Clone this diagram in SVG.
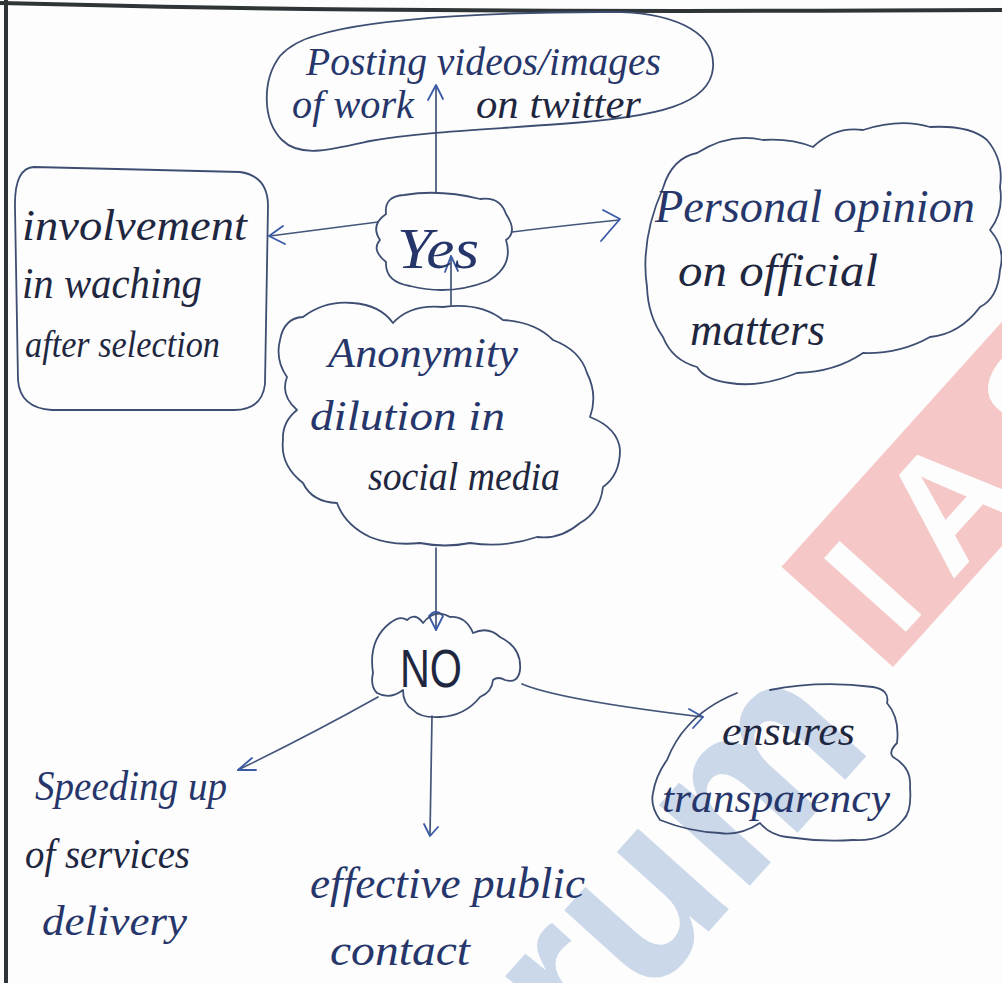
<svg xmlns="http://www.w3.org/2000/svg" width="1002" height="983" viewBox="0 0 1002 983">
  <defs>
    <style>
      .ink { font-family: "Liberation Serif", "DejaVu Serif", serif; font-style: italic; fill: #26366a; }
      .dark { fill: #1f2740; }
      .outline { fill: none; stroke: #3e4e72; stroke-width: 1.8; stroke-linecap: round; stroke-linejoin: round; }
      .wire { fill: none; stroke: #44557a; stroke-width: 1.7; stroke-linecap: round; stroke-linejoin: round; }
      .head { fill: none; stroke: #3a5aa8; stroke-width: 1.8; stroke-linecap: round; stroke-linejoin: round; }
      .mark { font-family: "Liberation Sans", "DejaVu Sans", sans-serif; font-weight: bold; }
    </style>
  </defs>

  <!-- paper -->
  <rect x="0" y="0" width="1002" height="983" fill="#fdfdfd"/>

  <!-- faint brand mark printed across the sheet -->
  <g id="watermark" transform="translate(893,667) rotate(-48)">
    <rect x="0" y="-150" width="700" height="150" fill="#f5c7c7"/>
    <text class="mark" x="24" y="-14" font-size="160" letter-spacing="34" fill="#fdfdfd">IAS</text>
    <text class="mark" x="-70" y="40" font-size="230" fill="#cbd8ea" text-anchor="end">forum</text>
  </g>

  <!-- page edges -->
  <path d="M0,3 C200,8 420,13 1002,10" fill="none" stroke="#2f3436" stroke-width="4"/>
  <path d="M6,0 L6,983" fill="none" stroke="#2f3436" stroke-width="4"/>

  <!-- connectors -->
  <g id="connectors">
    <!-- Yes -> posting -->
    <path class="wire" d="M436,192 L436,86"/>
    <path class="head" d="M428,100 L436,85 L443,99"/>
    <!-- Yes -> involvement -->
    <path class="wire" d="M378,222 Q330,228 270,236"/>
    <path class="head" d="M283,226 L269,236 L285,244"/>
    <!-- Yes -> personal opinion -->
    <path class="wire" d="M512,232 Q560,226 619,220"/>
    <path class="head" d="M603,210 L620,219 L601,241"/>
    <!-- Anonymity -> Yes -->
    <path class="wire" d="M451,305 L451,256"/>
    <path class="head" d="M445,272 L451,256 L458,271"/>
    <!-- Anonymity -> NO -->
    <path class="wire" d="M436,548 L436,630"/>
    <path class="head" d="M429,616 L436,630 L443,616 Q436,608 429,616"/>
    <!-- NO -> speeding up -->
    <path class="wire" d="M378,697 Q310,735 238,770"/>
    <path class="head" d="M252,758 L238,770 L256,770"/>
    <!-- NO -> effective public contact -->
    <path class="wire" d="M432,716 L430,835"/>
    <path class="head" d="M424,824 L430,836 L438,827"/>
    <!-- NO -> ensures transparency -->
    <path class="wire" d="M522,684 Q560,700 703,717"/>
    <path class="head" d="M689,709 L703,717 L693,728"/>
  </g>

  <!-- posting cloud -->
  <g id="posting">
    <path class="outline" d="M318,35 C380,16 520,12 600,12 C670,10 716,30 713,68 C710,104 660,117 560,124 C480,130 420,132 370,141 C330,150 300,158 282,140 C262,120 262,80 280,56 C290,45 303,39 318,35 Z"/>
    <text class="ink" font-size="40" y="75"><tspan x="306" textLength="355" lengthAdjust="spacingAndGlyphs">Posting videos/images</tspan></text>
    <text class="ink" font-size="40" y="118"><tspan x="292" textLength="122" lengthAdjust="spacingAndGlyphs">of work</tspan><tspan class="dark" x="476" textLength="165" lengthAdjust="spacingAndGlyphs">on twitter</tspan></text>
  </g>

  <!-- involvement box -->
  <g id="involvement">
    <path class="outline" d="M34,167 L240,172 Q268,176 268,206 L265,384 Q262,410 234,410 L52,410 Q20,408 18,380 L15,208 Q14,168 34,167 Z"/>
    <text class="ink dark" font-size="44" y="240"><tspan x="22" textLength="225" lengthAdjust="spacingAndGlyphs">involvement</tspan></text>
    <text class="ink dark" font-size="44" y="298"><tspan x="22" textLength="180" lengthAdjust="spacingAndGlyphs">in waching</tspan></text>
    <text class="ink dark" font-size="38" y="357"><tspan x="25" textLength="195" lengthAdjust="spacingAndGlyphs">after selection</tspan></text>
  </g>

  <!-- Yes cloud -->
  <g id="yes">
    <path class="outline" d="M386,214 Q384,196 404,195 Q440,189 480,199 Q500,196 506,214 Q518,232 506,240 Q514,266 488,281 Q450,296 410,286 Q385,282 386,262 Q371,250 380,240 Q370,225 386,214 Z"/>
    <text class="ink" font-size="56" y="268"><tspan x="397" textLength="82" lengthAdjust="spacingAndGlyphs">Yes</tspan></text>
  </g>

  <!-- personal opinion cloud -->
  <g id="opinion">
    <path class="outline" d="M647,287 Q640,240 663,188 Q672,158 697,153 Q730,132 763,140 Q790,138 813,147 Q835,126 863,130 Q900,118 930,127 Q970,125 987,140 Q1004,160 1000,187 Q1004,212 990,230 Q1006,248 1000,270 Q998,298 980,307 Q960,334 930,337 Q900,354 863,353 Q835,372 797,373 Q760,388 730,383 Q705,380 697,367 Q672,360 663,337 Q648,316 647,287 Z"/>
    <text class="ink" font-size="46" y="222"><tspan x="655" textLength="320" lengthAdjust="spacingAndGlyphs">Personal opinion</tspan></text>
    <text class="ink dark" font-size="46" y="286"><tspan x="678" textLength="200" lengthAdjust="spacingAndGlyphs">on official</tspan></text>
    <text class="ink dark" font-size="46" y="345"><tspan x="690" textLength="135" lengthAdjust="spacingAndGlyphs">matters</tspan></text>
  </g>

  <!-- anonymity cloud -->
  <g id="anonymity">
    <path class="outline" d="M280,340 Q284,318 303,317 Q325,300 353,303 Q380,305 393,323 Q410,304 443,307 Q480,302 503,320 Q535,322 553,340 Q580,350 587,373 Q598,395 590,417 Q618,428 620,450 Q620,475 603,487 Q600,512 580,523 Q560,540 537,537 Q505,548 470,543 Q445,548 420,543 Q392,546 370,537 Q345,525 337,503 Q312,502 303,483 Q280,465 283,440 Q282,422 297,410 Q280,395 287,377 Q275,360 280,340 Z"/>
    <text class="ink" font-size="42" y="367"><tspan x="328" textLength="190" lengthAdjust="spacingAndGlyphs">Anonymity</tspan></text>
    <text class="ink" font-size="42" y="430"><tspan x="310" textLength="195" lengthAdjust="spacingAndGlyphs">dilution in</tspan></text>
    <text class="ink dark" font-size="40" y="490"><tspan x="368" textLength="192" lengthAdjust="spacingAndGlyphs">social media</tspan></text>
  </g>

  <!-- NO cloud -->
  <g id="no">
    <path class="outline" d="M373,673 Q368,640 390,623 Q400,615 407,620 Q415,612 423,623 Q435,608 450,617 Q466,616 473,633 Q488,626 500,637 Q522,648 520,670 Q518,684 505,680 Q498,676 493,680 Q492,692 480,697 Q465,716 440,717 Q420,718 413,710 Q403,704 403,690 Q390,700 377,693 Q370,686 373,673 Z"/>
    <text font-family="Liberation Sans, DejaVu Sans, sans-serif" font-size="54" fill="#1f2740" y="687"><tspan x="400" textLength="62" lengthAdjust="spacingAndGlyphs">NO</tspan></text>
  </g>

  <!-- ensures transparency cloud -->
  <g id="ensures">
    <path class="outline" d="M770,690 Q820,680 873,687 Q890,690 887,703 Q900,718 897,743 Q888,752 893,757 Q912,768 910,787 Q912,812 903,820 Q885,842 853,840 Q820,842 787,837 Q770,835 760,823 Q740,836 720,833 Q690,832 660,820 Q650,806 653,793 Q656,775 667,760 Q675,740 687,727 Q705,706 737,693"/>
    <text class="ink dark" font-size="42" y="745"><tspan x="722" textLength="133" lengthAdjust="spacingAndGlyphs">ensures</tspan></text>
    <text class="ink" font-size="42" y="812"><tspan x="662" textLength="228" lengthAdjust="spacingAndGlyphs">transparency</tspan></text>
  </g>

  <!-- speeding up of services delivery -->
  <g id="speeding">
    <text class="ink" font-size="42" y="800"><tspan x="35" textLength="192" lengthAdjust="spacingAndGlyphs">Speeding up</tspan></text>
    <text class="ink dark" font-size="42" y="868"><tspan x="25" textLength="165" lengthAdjust="spacingAndGlyphs">of services</tspan></text>
    <text class="ink" font-size="42" y="935"><tspan x="42" textLength="145" lengthAdjust="spacingAndGlyphs">delivery</tspan></text>
  </g>

  <!-- effective public contact -->
  <g id="effective">
    <text class="ink" font-size="44" y="898"><tspan x="310" textLength="275" lengthAdjust="spacingAndGlyphs">effective public</tspan></text>
    <text class="ink" font-size="44" y="965"><tspan x="330" textLength="140" lengthAdjust="spacingAndGlyphs">contact</tspan></text>
  </g>
</svg>
